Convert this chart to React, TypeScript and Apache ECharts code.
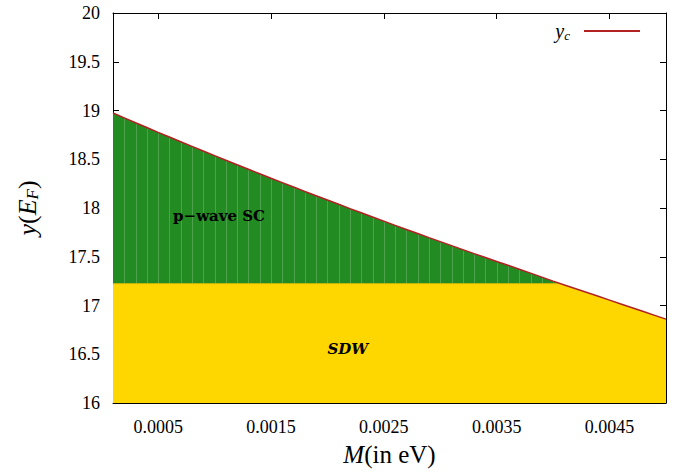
import React, { useEffect, useRef } from 'react';
import * as echarts from 'echarts';

const mValues = [
  0.0001, 0.0002, 0.0003, 0.0004, 0.0005, 0.0006, 0.0007, 0.0008, 0.0009, 0.001,
  0.0011, 0.0012, 0.0013, 0.0014, 0.0015, 0.0016, 0.0017, 0.0018, 0.0019, 0.002,
  0.0021, 0.0022, 0.0023, 0.0024, 0.0025, 0.0026, 0.0027, 0.0028, 0.0029, 0.003,
  0.0031, 0.0032, 0.0033, 0.0034, 0.0035, 0.0036, 0.0037, 0.0038, 0.0039, 0.004,
  0.0041, 0.0042, 0.0043, 0.0044, 0.0045, 0.0046, 0.0047, 0.0048, 0.0049, 0.005,
];

const ycValues = [
  18.974, 18.924, 18.874, 18.825, 18.776, 18.728, 18.68, 18.632, 18.584, 18.537,
  18.49, 18.443, 18.397, 18.351, 18.305, 18.26, 18.215, 18.17, 18.126, 18.082,
  18.038, 17.994, 17.951, 17.908, 17.865, 17.822, 17.78, 17.738, 17.696, 17.655,
  17.614, 17.573, 17.532, 17.492, 17.452, 17.412, 17.372, 17.332, 17.291, 17.25,
  17.211, 17.172, 17.133, 17.094, 17.055, 17.016, 16.977, 16.938, 16.899, 16.86,
];

const phaseBoundary = 17.224;
const xTickValues = [0.0005, 0.0015, 0.0025, 0.0035, 0.0045];
const yMin = 16;
const yMax = 20;
const yStep = 0.5;

const regionLabels = [
  { text: 'p\u2212wave SC', x: 0.00104, y: 17.913, italic: false },
  { text: 'SDW', x: 0.00218, y: 16.552, italic: true },
];

const GREEN = '#228b22';
const YELLOW = '#ffd700';
const LINE = '#b22222';
const SERIF = 'Liberation Serif';

export default function App() {
  const ref = useRef<HTMLDivElement>(null);

  useEffect(() => {
    if (!ref.current) return;
    const chart = echarts.init(ref.current, undefined, { renderer: 'svg' });

    let ci = 0;
    for (let i = 0; i < ycValues.length - 1; i++) {
      if (ycValues[i] >= phaseBoundary && ycValues[i + 1] < phaseBoundary) {
        ci = i;
        break;
      }
    }
    const xc =
      mValues[ci] +
      ((ycValues[ci] - phaseBoundary) / (ycValues[ci] - ycValues[ci + 1])) *
        (mValues[ci + 1] - mValues[ci]);

    const renderRegions = (params: any, api: any) => {
      const children: any[] = [];
      const yPts: number[][] = [];
      yPts.push(api.coord([mValues[0], yMin]));
      yPts.push(api.coord([mValues[0], phaseBoundary]));
      yPts.push(api.coord([xc, phaseBoundary]));
      for (let j = ci + 1; j < mValues.length; j++) yPts.push(api.coord([mValues[j], ycValues[j]]));
      yPts.push(api.coord([mValues[mValues.length - 1], yMin]));
      children.push({ type: 'polygon', shape: { points: yPts }, style: { fill: YELLOW, stroke: null } });
      const gPts: number[][] = [];
      gPts.push(api.coord([mValues[0], phaseBoundary]));
      for (let j = 0; j <= ci; j++) gPts.push(api.coord([mValues[j], ycValues[j]]));
      gPts.push(api.coord([xc, phaseBoundary]));
      children.push({ type: 'polygon', shape: { points: gPts }, style: { fill: GREEN, stroke: null } });
      for (let j = 1; j <= ci; j++) {
        const a = api.coord([mValues[j], phaseBoundary]);
        const b = api.coord([mValues[j], ycValues[j]]);
        children.push({
          type: 'line',
          shape: { x1: Math.round(a[0]) + 0.5, y1: a[1], x2: Math.round(a[0]) + 0.5, y2: b[1] + 1 },
          style: { stroke: 'rgba(255,255,255,0.2)', lineWidth: 1 },
        });
      }
      const e1 = api.coord([mValues[0], phaseBoundary]);
      const e2 = api.coord([xc, phaseBoundary]);
      children.push({
        type: 'line',
        shape: { x1: e1[0], y1: e1[1], x2: e2[0], y2: e2[1] },
        style: { stroke: '#d9b800', lineWidth: 1 },
      });
      regionLabels.forEach((l) => {
        const p = api.coord([l.x, l.y]);
        children.push({
          type: 'text',
          x: p[0],
          y: p[1],
          style: {
            text: l.text,
            fill: '#000',
            fontFamily: 'DejaVu Serif',
            fontWeight: 'bold',
            fontStyle: l.italic ? 'italic' : 'normal',
            fontSize: 15,
            align: 'center',
            verticalAlign: 'middle',
          },
        });
      });
      return { type: 'group', children };
    };

    const axisCommon = {
      type: 'value' as const,
      axisLine: { show: true, lineStyle: { color: '#000', width: 1 } },
      splitLine: { show: false },
    };

    chart.setOption({
      animation: false,
      backgroundColor: '#fff',
      textStyle: { fontFamily: SERIF },
      grid: { left: 113, right: 15, top: 13, bottom: 68, containLabel: false },
      legend: {
        show: true,
        data: [{ name: 'yc', icon: 'rect' }],
        right: 36,
        top: 16,
        align: 'right',
        itemWidth: 56,
        itemHeight: 2,
        formatter: () => '{i|y}{s|c}',
        textStyle: {
          fontFamily: SERIF,
          rich: {
            i: { fontFamily: SERIF, fontStyle: 'italic', fontSize: 20, color: '#000' },
            s: { fontFamily: SERIF, fontStyle: 'italic', fontSize: 13, color: '#000', padding: [8, 9, 0, 0] },
          },
        },
      },
      xAxis: [
        {
          ...axisCommon,
          position: 'bottom',
          min: 0.0001,
          max: 0.005,
          axisTick: { show: true, inside: true, length: 6, customValues: xTickValues, lineStyle: { color: '#000' } },
          axisLabel: {
            customValues: xTickValues,
            margin: 15,
            color: '#000',
            fontFamily: SERIF,
            fontSize: 18,
          },
          name: '{i|M}{n|(in eV)}',
          nameLocation: 'middle',
          nameGap: 39,
          nameTextStyle: {
            fontFamily: SERIF,
            fontSize: 25,
            color: '#000',
            rich: {
              i: { fontFamily: SERIF, fontSize: 25, fontStyle: 'italic', color: '#000' },
              n: { fontFamily: SERIF, fontSize: 25, color: '#000' },
            },
          },
        },
        {
          ...axisCommon,
          position: 'top',
          min: 0.0001,
          max: 0.005,
          axisTick: { show: true, inside: true, length: 6, customValues: xTickValues, lineStyle: { color: '#000' } },
          axisLabel: { show: false },
        },
      ],
      yAxis: [
        {
          ...axisCommon,
          position: 'left',
          min: yMin,
          max: yMax,
          interval: yStep,
          axisTick: { show: true, inside: true, length: 6, lineStyle: { color: '#000' } },
          axisLabel: { margin: 13, color: '#000', fontFamily: SERIF, fontSize: 18 },
          name: '{i|y}{n|(}{i|E}{s|F}{n|)}',
          nameLocation: 'middle',
          nameRotate: 90,
          nameGap: 72,
          nameTextStyle: {
            fontFamily: SERIF,
            fontSize: 26,
            color: '#000',
            rich: {
              i: { fontFamily: SERIF, fontSize: 26, fontStyle: 'italic', color: '#000' },
              n: { fontFamily: SERIF, fontSize: 26, color: '#000' },
              s: { fontFamily: SERIF, fontSize: 17, fontStyle: 'italic', color: '#000', padding: [10, 0, 0, 0] },
            },
          },
        },
        {
          ...axisCommon,
          position: 'right',
          min: yMin,
          max: yMax,
          interval: yStep,
          axisTick: { show: true, inside: true, length: 6, lineStyle: { color: '#000' } },
          axisLabel: { show: false },
        },
      ],
      series: [
        {
          type: 'custom',
          name: 'regions',
          xAxisIndex: 0,
          yAxisIndex: 0,
          data: [[mValues[0], ycValues[0]]],
          renderItem: renderRegions,
          clip: true,
          silent: true,
          z: 1,
        },
        {
          type: 'line',
          name: 'yc',
          xAxisIndex: 0,
          yAxisIndex: 0,
          data: mValues.map((m, i) => [m, ycValues[i]]),
          symbol: 'none',
          showSymbol: false,
          lineStyle: { color: LINE, width: 1.5 },
          itemStyle: { color: LINE },
          z: 3,
        },
      ],
    });

    return () => chart.dispose();
  }, []);

  return <div ref={ref} style={{ width: 681, height: 472, position: 'absolute', left: 0, top: 0 }} />;
}
